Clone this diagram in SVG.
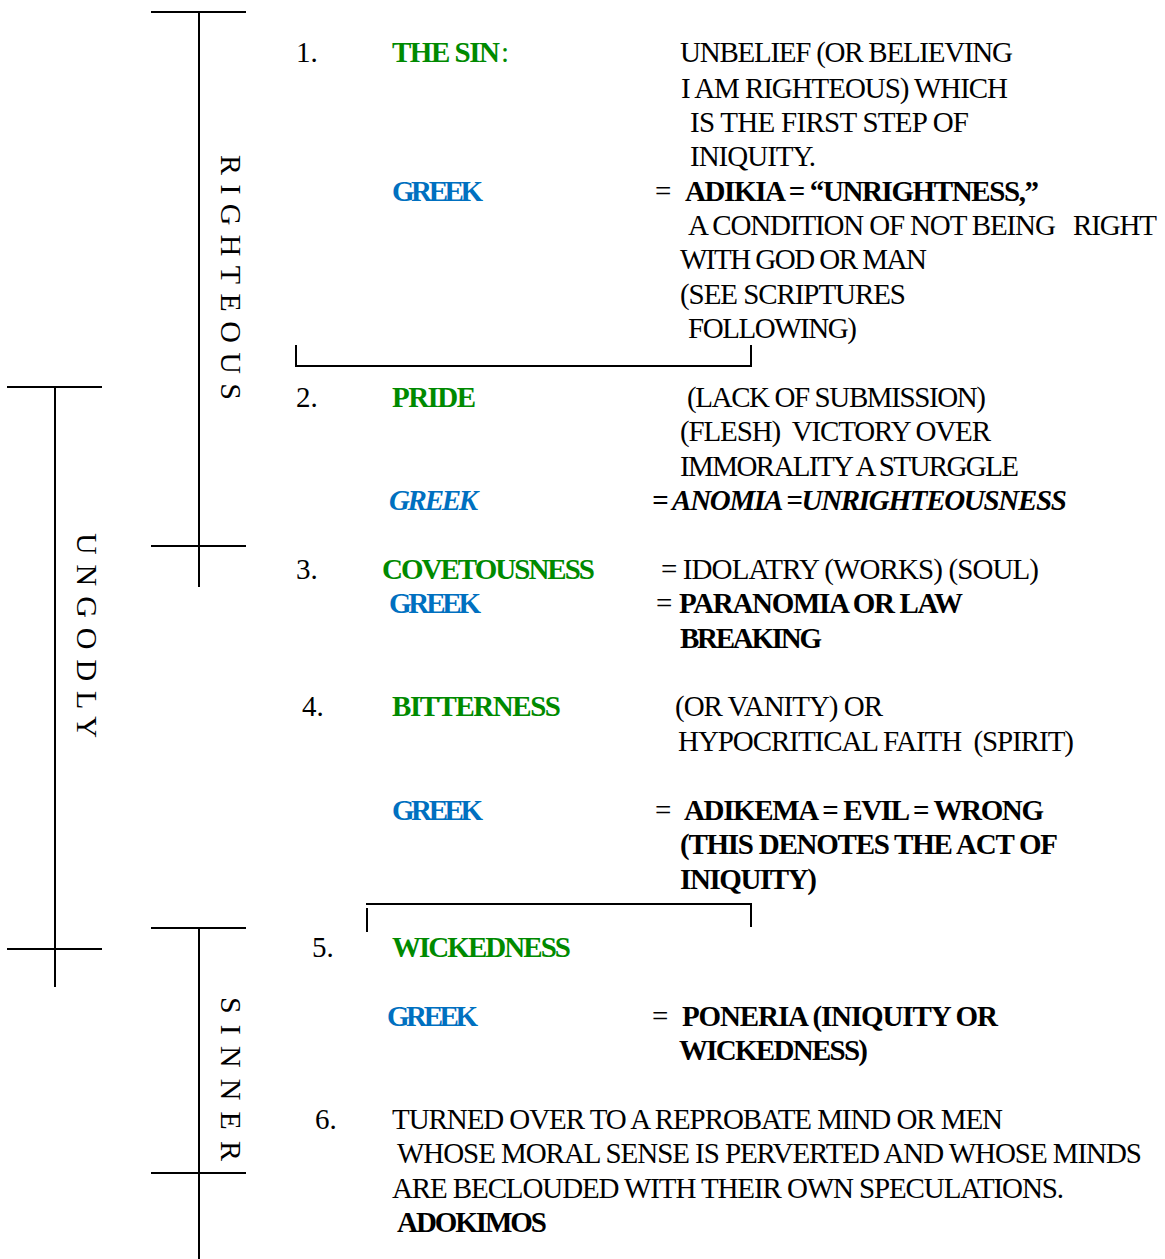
<svg xmlns="http://www.w3.org/2000/svg" width="1165" height="1259" viewBox="0 0 1165 1259">
<style>
text{font-family:"Liberation Serif","Times New Roman",serif;font-size:29px;fill:#000;white-space:pre}
.b{font-weight:bold}
.i{font-style:italic}
.g{fill:#008A00;font-weight:bold}
.bl{fill:#0070C0;font-weight:bold}
.v{font-size:30px}
line{stroke:#000;stroke-width:2;fill:none}
</style>
<rect width="1165" height="1259" fill="#fff"/>
<g id="connectors">
<line x1="151" y1="12" x2="246" y2="12"/>
<line x1="199" y1="12" x2="199" y2="587"/>
<line x1="151" y1="546" x2="246" y2="546"/>
<line x1="7" y1="387" x2="102" y2="387"/>
<line x1="55" y1="387" x2="55" y2="987"/>
<line x1="7" y1="949" x2="102" y2="949"/>
<line x1="151" y1="928" x2="246" y2="928"/>
<line x1="199" y1="928" x2="199" y2="1259"/>
<line x1="151" y1="1173" x2="246" y2="1173"/>
<line x1="296" y1="345" x2="296" y2="367"/>
<line x1="295" y1="366" x2="752" y2="366"/>
<line x1="751" y1="345" x2="751" y2="367"/>
<line x1="366" y1="904" x2="752" y2="904"/>
<line x1="367" y1="908" x2="367" y2="932"/>
<line x1="751" y1="904" x2="751" y2="927"/>
</g>
<g id="label-righteous"><text class="v" transform="translate(221,155) rotate(90)" textLength="245">RIGHTEOUS</text></g>
<g id="label-ungodly"><text class="v" transform="translate(77,533) rotate(90)" textLength="205">UNGODLY</text></g>
<g id="label-sinner"><text class="v" transform="translate(221,997) rotate(90)" textLength="164">SINNER</text></g>
<g id="item1">
<text x="296" y="62">1.</text>
<text x="392" y="62" class="g" textLength="108">THE SIN</text>
<text x="501" y="62" fill="#008A00" style="fill:#008A00">:</text>
<text x="680" y="62" textLength="333">UNBELIEF (OR BELIEVING</text>
<text x="681" y="98" textLength="327">I AM RIGHTEOUS) WHICH</text>
<text x="690" y="132" textLength="279">IS THE FIRST STEP OF</text>
<text x="690" y="166" textLength="126">INIQUITY.</text>
<text x="392" y="201" class="bl" textLength="91">GREEK</text>
<text x="655" y="201">=</text>
<text x="685" y="201" class="b" textLength="354">ADIKIA = “UNRIGHTNESS,”</text>
<text x="688" y="235" textLength="469">A CONDITION OF NOT BEING   RIGHT</text>
<text x="680" y="269" textLength="247">WITH GOD OR MAN</text>
<text x="680" y="304" textLength="226">(SEE SCRIPTURES</text>
<text x="688" y="338" textLength="169">FOLLOWING)</text>
</g>
<g id="item2">
<text x="296" y="407">2.</text>
<text x="392" y="407" class="g" textLength="84">PRIDE</text>
<text x="687" y="407" textLength="299">(LACK OF SUBMISSION)</text>
<text x="680" y="441" textLength="311">(FLESH)  VICTORY OVER</text>
<text x="680" y="476" textLength="339">IMMORALITY A STURGGLE</text>
<text x="389" y="510" class="bl i" textLength="89">GREEK</text>
<text x="652" y="510" class="b i" textLength="415">= ANOMIA =UNRIGHTEOUSNESS</text>
</g>
<g id="item3">
<text x="296" y="579">3.</text>
<text x="382" y="579" class="g" textLength="213">COVETOUSNESS</text>
<text x="661" y="579" textLength="378">= IDOLATRY (WORKS) (SOUL)</text>
<text x="389" y="613" class="bl" textLength="92">GREEK</text>
<text x="656" y="613">=</text>
<text x="679" y="613" class="b" textLength="284">PARANOMIA OR LAW</text>
<text x="680" y="648" class="b" textLength="142">BREAKING</text>
</g>
<g id="item4">
<text x="302" y="716">4.</text>
<text x="392" y="716" class="g" textLength="169">BITTERNESS</text>
<text x="675" y="716" textLength="208">(OR VANITY) OR</text>
<text x="678" y="751" textLength="396">HYPOCRITICAL FAITH  (SPIRIT)</text>
<text x="392" y="820" class="bl" textLength="91">GREEK</text>
<text x="655" y="820">=</text>
<text x="684" y="820" class="b" textLength="360">ADIKEMA = EVIL = WRONG</text>
<text x="680" y="854" class="b" textLength="378">(THIS DENOTES THE ACT OF</text>
<text x="680" y="889" class="b" textLength="137">INIQUITY)</text>
</g>
<g id="item5">
<text x="312" y="957">5.</text>
<text x="392" y="957" class="g" textLength="179">WICKEDNESS</text>
<text x="387" y="1026" class="bl" textLength="91">GREEK</text>
<text x="652" y="1026">=</text>
<text x="682" y="1026" class="b" textLength="316">PONERIA (INIQUITY OR</text>
<text x="679" y="1060" class="b" textLength="189">WICKEDNESS)</text>
</g>
<g id="item6">
<text x="315" y="1129">6.</text>
<text x="392" y="1129" textLength="611">TURNED OVER TO A REPROBATE MIND OR MEN</text>
<text x="397" y="1163" textLength="745">WHOSE MORAL SENSE IS PERVERTED AND WHOSE MINDS</text>
<text x="392" y="1198" textLength="672">ARE BECLOUDED WITH THEIR OWN SPECULATIONS.</text>
<text x="397" y="1232" class="b" textLength="150">ADOKIMOS</text>
</g>
</svg>
